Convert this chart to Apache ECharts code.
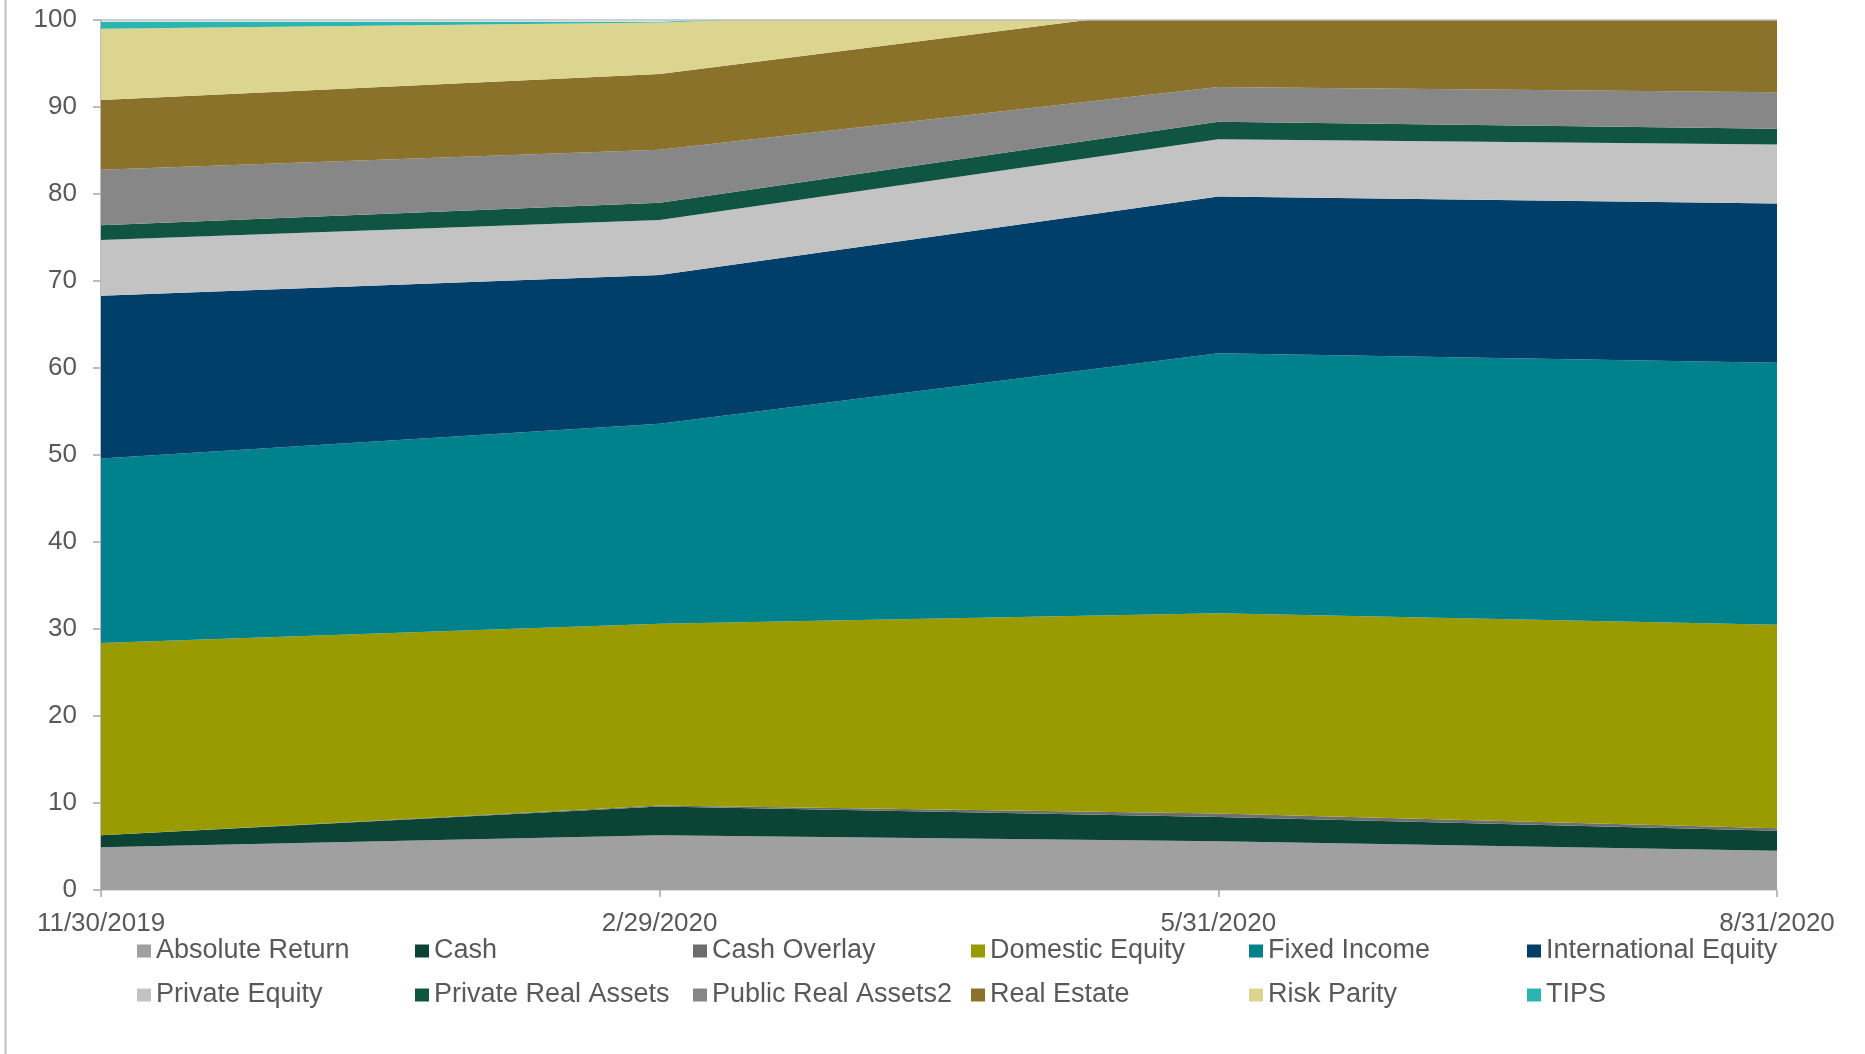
<!DOCTYPE html>
<html>
<head>
<meta charset="utf-8">
<script src="https://cdn.jsdelivr.net/npm/echarts@6/dist/echarts.min.js"></script>
<style>
html,body{margin:0;padding:0;background:#fff;}
#c{width:1865px;height:1054px;}
</style>
</head>
<body>
<div id="c"></div>
<script>
var dates = ['11/30/2019', '2/29/2020', '5/31/2020', '8/31/2020'];
var seriesNames = ['Absolute Return', 'Cash', 'Cash Overlay', 'Domestic Equity', 'Fixed Income', 'International Equity',
  'Private Equity', 'Private Real Assets', 'Public Real Assets2', 'Real Estate', 'Risk Parity', 'TIPS'];
var absoluteReturn = [4.9, 6.3, 5.6, 4.5];
var cash = [1.4, 3.3, 2.8, 2.3];
var cashOverlay = [0, 0.1, 0.4, 0.3];
var domesticEquity = [22.1, 20.9, 23.0, 23.4];
var fixedIncome = [21.2, 23.0, 29.9, 30.1];
var internationalEquity = [18.7, 17.1, 18.0, 18.3];
var privateEquity = [6.4, 6.3, 6.6, 6.8];
var privateRealAssets = [1.7, 2.0, 2.0, 1.8];
var publicRealAssets2 = [6.4, 6.1, 4.0, 4.2];
var realEstate = [8.0, 8.7, 9.6, 9.5];
var riskParity = [8.2, 5.9, 0, 0];
var tips = [0.8, 0.1, 0, 0];
var yTicks = [0, 10, 20, 30, 40, 50, 60, 70, 80, 90, 100];

var seriesData = [absoluteReturn, cash, cashOverlay, domesticEquity, fixedIncome, internationalEquity,
  privateEquity, privateRealAssets, publicRealAssets2, realEstate, riskParity, tips];
var colors = ['#A0A0A0', '#0B4434', '#6E6E6E', '#999B00', '#00828C', '#003F69',
  '#C3C3C3', '#105541', '#878787', '#8A722B', '#DBD58F', '#2BB5B1'];

var chart = echarts.init(document.getElementById('c'));
var font = '"Liberation Sans", Arial, sans-serif';
var series = seriesNames.map(function (n, i) {
  var s = {
    name: n,
    type: 'line',
    stack: 'total',
    data: seriesData[i],
    symbol: 'none',
    showSymbol: false,
    lineStyle: { width: 0 },
    areaStyle: { color: colors[i], opacity: 1 },
    itemStyle: { color: colors[i] },
    emphasis: { disabled: true },
    animation: false
  };
  if (i === seriesNames.length - 1) {
    s.markLine = {
      silent: true, symbol: 'none', label: { show: false },
      lineStyle: { color: '#BFBFBF', width: 1.5, type: 'solid' },
      data: [{ yAxis: 100 }], animation: false
    };
  }
  return s;
});

function legendCfg(names, top) {
  return {
    data: names,
    left: 137,
    top: top,
    width: 1720,
    padding: 0,
    orient: 'horizontal',
    itemWidth: 14,
    itemHeight: 13,
    itemGap: 0,
    icon: 'rect',
    textStyle: { fontFamily: font, fontSize: 27, color: '#595959', width: 259, lineHeight: 28 },
    selectedMode: false
  };
}

chart.setOption({
  animation: false,
  color: colors,
  grid: { left: 101, right: 88, top: 20, bottom: 164, containLabel: false },
  legend: [legendCfg(seriesNames.slice(0, 6), 937), legendCfg(seriesNames.slice(6), 981)],
  xAxis: {
    type: 'category',
    data: dates,
    boundaryGap: false,
    axisLine: { show: true, lineStyle: { color: '#D0D0D0', width: 1.5 } },
    axisTick: { show: true, alignWithLabel: true, length: 7, lineStyle: { color: '#A6A6A6', width: 1.5 } },
    axisLabel: { fontFamily: font, fontSize: 26, color: '#595959', margin: 21 },
    splitLine: { show: false }
  },
  yAxis: {
    type: 'value',
    min: yTicks[0],
    max: yTicks[yTicks.length - 1],
    interval: 10,
    axisLine: { show: true, lineStyle: { color: '#A6A6A6', width: 1.5 } },
    axisTick: { show: true, length: 8, lineStyle: { color: '#A6A6A6', width: 1.5 } },
    axisLabel: { fontFamily: font, fontSize: 26, color: '#595959', margin: 24 },
    splitLine: { show: false }
  },
  graphic: [{
    type: 'line', shape: { x1: 5.5, y1: 0, x2: 5.5, y2: 1054 },
    style: { stroke: '#BFBFBF', lineWidth: 2 }, silent: true
  }],
  series: series
});
</script>
</body>
</html>
